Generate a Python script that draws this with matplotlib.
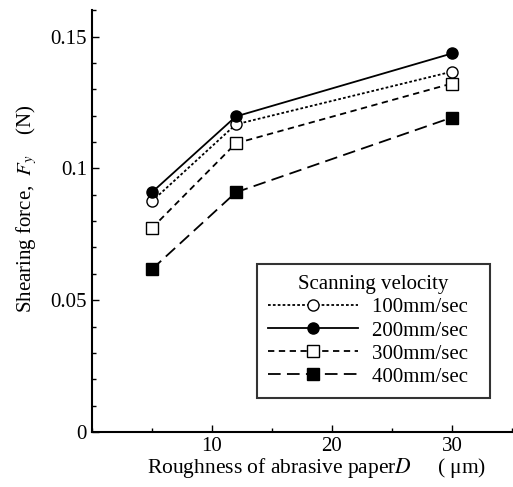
import numpy as np
import matplotlib.pyplot as plt
from matplotlib.ticker import MultipleLocator

plt.rcParams['font.family'] = ['Liberation Serif', 'DejaVu Serif']
plt.rcParams['mathtext.fontset'] = 'stix'

# roughness of abrasive paper D (um)
roughness = [5, 12, 30]

# shearing force Fy (N) for each scanning velocity
fy_100 = [0.0875, 0.1167, 0.1367]
fy_200 = [0.0909, 0.1197, 0.1436]
fy_300 = [0.0773, 0.1095, 0.1322]
fy_400 = [0.0617, 0.0909, 0.1193]

labels = ["100mm/sec", "200mm/sec", "300mm/sec", "400mm/sec"]

fig = plt.figure(figsize=(5.13, 4.87), dpi=100)
ax = fig.add_axes([0.179, 0.113, 0.819, 0.866])

ax.plot(roughness, fy_100, linestyle=(0, (1.5, 1.2)), color='black', lw=1.3,
        marker='o', ms=8, mfc='white', mec='black', mew=1.0, label=labels[0] + "  ")
ax.plot(roughness, fy_200, linestyle='-', color='black', lw=1.3,
        marker='o', ms=8, mfc='black', mec='black', label=labels[1] + "  ")
ax.plot(roughness, fy_300, linestyle=(0, (3.5, 2.5)), color='black', lw=1.3,
        marker='s', ms=9, mfc='white', mec='black', mew=1.0, label=labels[2] + "  ")
ax.plot(roughness, fy_400, linestyle=(0, (7, 3.5)), color='black', lw=1.3,
        marker='s', ms=8, mfc='black', mec='black', label=labels[3] + "  ")

ax.set_xlim(0, 35)
ax.set_ylim(0, 0.16)
ax.xaxis.set_minor_locator(MultipleLocator(5))
ax.yaxis.set_minor_locator(MultipleLocator(0.01))
ax.set_xticks([10, 20, 30])
ax.set_xticklabels(["10", "20", "30"])
ax.set_yticks([0, 0.05, 0.1, 0.15])
ax.set_yticklabels(["0", "0.05", "0.1", "0.15"])
ax.tick_params(which='both', direction='in', labelsize=15, width=1.0)
ax.tick_params(which='major', length=5)
ax.tick_params(which='minor', length=3)

for s in ['top', 'right']:
    ax.spines[s].set_visible(False)
for s in ['left', 'bottom']:
    ax.spines[s].set_linewidth(1.5)

ax.set_ylabel(r"Shearing force,  $F_y$    (N)", fontsize=15)
ax.yaxis.set_label_coords(-0.125, 0.53)
ax.set_xlabel(r"Roughness of abrasive paper$D$     ( μm)", fontsize=15.5)
ax.xaxis.set_label_coords(0.535, -0.058)

leg = ax.legend(title="Scanning velocity", loc='lower right',
                bbox_to_anchor=(0.948, 0.08), borderaxespad=0,
                fontsize=15, title_fontsize=15,
                frameon=True, fancybox=False, edgecolor='black',
                handlelength=4.3, handletextpad=0.7, labelspacing=0.17,
                borderpad=0.55)
leg.get_frame().set_linewidth(1.5)

fig.savefig("out.png", dpi=100)
